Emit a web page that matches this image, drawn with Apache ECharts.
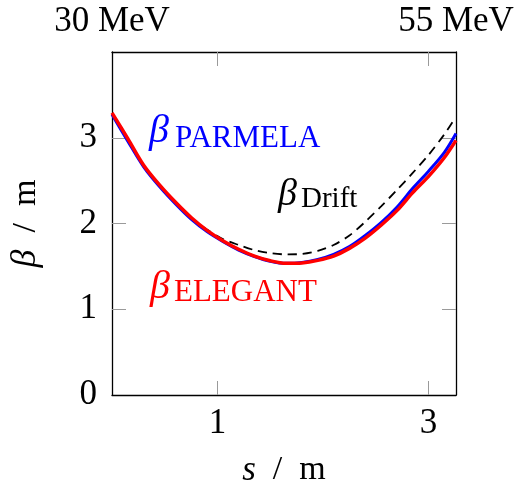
<!DOCTYPE html>
<html>
<head>
<meta charset="utf-8">
<script src="https://cdn.jsdelivr.net/npm/echarts@6/dist/echarts.min.js"></script>
<style>
  html, body { margin: 0; padding: 0; background: #fff; }
  #main { width: 527px; height: 497px; }
</style>
</head>
<body>
<div id="main"></div>
<script>
// s positions (m)
var sPos = [0, 0.15, 0.3, 0.45, 0.6, 0.75, 0.9, 1.05, 1.2, 1.35, 1.5, 1.65, 1.8, 1.95, 2.1, 2.25, 2.4, 2.55, 2.7, 2.85, 3.0, 3.15, 3.26];
// beta from ELEGANT (red)
var betaElegant = [3.29, 2.99, 2.68, 2.45, 2.25, 2.07, 1.92, 1.80, 1.70, 1.62, 1.565, 1.535, 1.54, 1.57, 1.62, 1.71, 1.83, 1.98, 2.15, 2.36, 2.55, 2.77, 2.97];
// beta from PARMELA (blue)
var betaParmela = [3.27, 2.96, 2.66, 2.43, 2.23, 2.05, 1.905, 1.79, 1.69, 1.615, 1.56, 1.535, 1.545, 1.58, 1.64, 1.73, 1.86, 2.01, 2.19, 2.41, 2.61, 2.83, 3.05];
// drift beta (dashed), visible from about s = 0.75
var sDrift = [0.75, 0.9, 1.05, 1.2, 1.35, 1.5, 1.65, 1.8, 1.95, 2.1, 2.25, 2.4, 2.55, 2.7, 2.85, 3.0, 3.15, 3.23];
var betaDrift = [2.06, 1.93, 1.82, 1.75, 1.69, 1.655, 1.64, 1.645, 1.68, 1.75, 1.86, 2.02, 2.20, 2.39, 2.59, 2.80, 3.04, 3.19];

var xTicks = [1, 3];
var yTicks = [0, 1, 2, 3];
var energyLabels = ['30 MeV', '55 MeV'];
var sMin = 0, sMax = 3.26;

function pairs(xs, ys) {
    var out = [];
    for (var i = 0; i < xs.length; i++) out.push([xs[i], ys[i]]);
    return out;
}

var font = 'Liberation Serif';
var tickStyle = { show: true, inside: true, length: 14, lineStyle: { color: '#9a9a9a', width: 1 } };
var boxLine = { show: true, onZero: false, lineStyle: { color: '#000', width: 1.3 } };

var myChart = echarts.init(document.getElementById('main'));
var option = {
    animation: false,
    grid: { left: 112, right: 71, top: 52, bottom: 102, outerBoundsMode: 'none' },
    xAxis: [
        {
            type: 'value', min: sMin, max: sMax, position: 'bottom',
            axisLine: boxLine,
            axisTick: Object.assign({ customValues: xTicks }, tickStyle),
            axisLabel: { customValues: xTicks, color: '#000', fontFamily: font, fontSize: 35, margin: 11 },
            splitLine: { show: false },
            name: '{i|s}  /  m', nameLocation: 'middle', nameGap: 58,
            nameTextStyle: { color: '#000', fontFamily: font, fontSize: 34,
                rich: { i: { fontStyle: 'italic', fontFamily: font, fontSize: 35 } } }
        },
        {
            type: 'value', min: sMin, max: sMax, position: 'top',
            axisLine: boxLine,
            axisTick: Object.assign({ customValues: xTicks }, tickStyle),
            axisLabel: {
                customValues: [sMin, sMax], showMinLabel: true, showMaxLabel: true,
                color: '#000', fontFamily: font, fontSize: 35, margin: 13,
                formatter: function (v, i) { return v === sMin ? energyLabels[0] : energyLabels[1]; }
            },
            splitLine: { show: false }
        }
    ],
    yAxis: [
        {
            type: 'value', min: 0, max: 4, position: 'left',
            axisLine: boxLine,
            axisTick: Object.assign({ customValues: [1, 2, 3] }, tickStyle),
            axisLabel: { customValues: yTicks, color: '#000', fontFamily: font, fontSize: 35, margin: 15 },
            splitLine: { show: false },
            name: '{i|β}  /  m', nameLocation: 'middle', nameGap: 68, nameRotate: 90,
            nameTextStyle: { color: '#000', fontFamily: font, fontSize: 34,
                rich: { i: { fontStyle: 'italic', fontFamily: font, fontSize: 36 } } }
        },
        {
            type: 'value', min: 0, max: 4, position: 'right',
            axisLine: boxLine,
            axisTick: Object.assign({ customValues: [1, 2, 3] }, tickStyle),
            axisLabel: { show: false },
            splitLine: { show: false }
        }
    ],
    series: [
        {
            name: 'Drift', type: 'line', smooth: 0.3, showSymbol: false,
            data: pairs(sDrift, betaDrift),
            lineStyle: { color: '#000', width: 1.8, type: [9, 6] }
        },
        {
            name: 'PARMELA', type: 'line', smooth: 0.3, showSymbol: false,
            data: pairs(sPos, betaParmela),
            lineStyle: { color: '#0000ff', width: 3 }
        },
        {
            name: 'ELEGANT', type: 'line', smooth: 0.3, showSymbol: false,
            data: pairs(sPos, betaElegant),
            lineStyle: { color: '#ff0000', width: 3.5 }
        }
    ],
    graphic: [
        { type: 'text', left: 149, top: 111, style: { text: 'β', fontFamily: font, fontStyle: 'italic', fontSize: 40, fill: '#0000ff' } },
        { type: 'text', left: 175, top: 123, style: { text: 'PARMELA', fontFamily: font, fontSize: 31, fill: '#0000ff' } },
        { type: 'text', left: 278, top: 176, style: { text: 'β', fontFamily: font, fontStyle: 'italic', fontSize: 38, fill: '#000' } },
        { type: 'text', left: 301, top: 185, style: { text: 'Drift', fontFamily: font, fontSize: 29, fill: '#000' } },
        { type: 'text', left: 150, top: 267, style: { text: 'β', fontFamily: font, fontStyle: 'italic', fontSize: 40, fill: '#ff0000' } },
        { type: 'text', left: 174, top: 277, style: { text: 'ELEGANT', fontFamily: font, fontSize: 31, fill: '#ff0000' } }
    ]
};
myChart.setOption(option);
</script>
</body>
</html>
